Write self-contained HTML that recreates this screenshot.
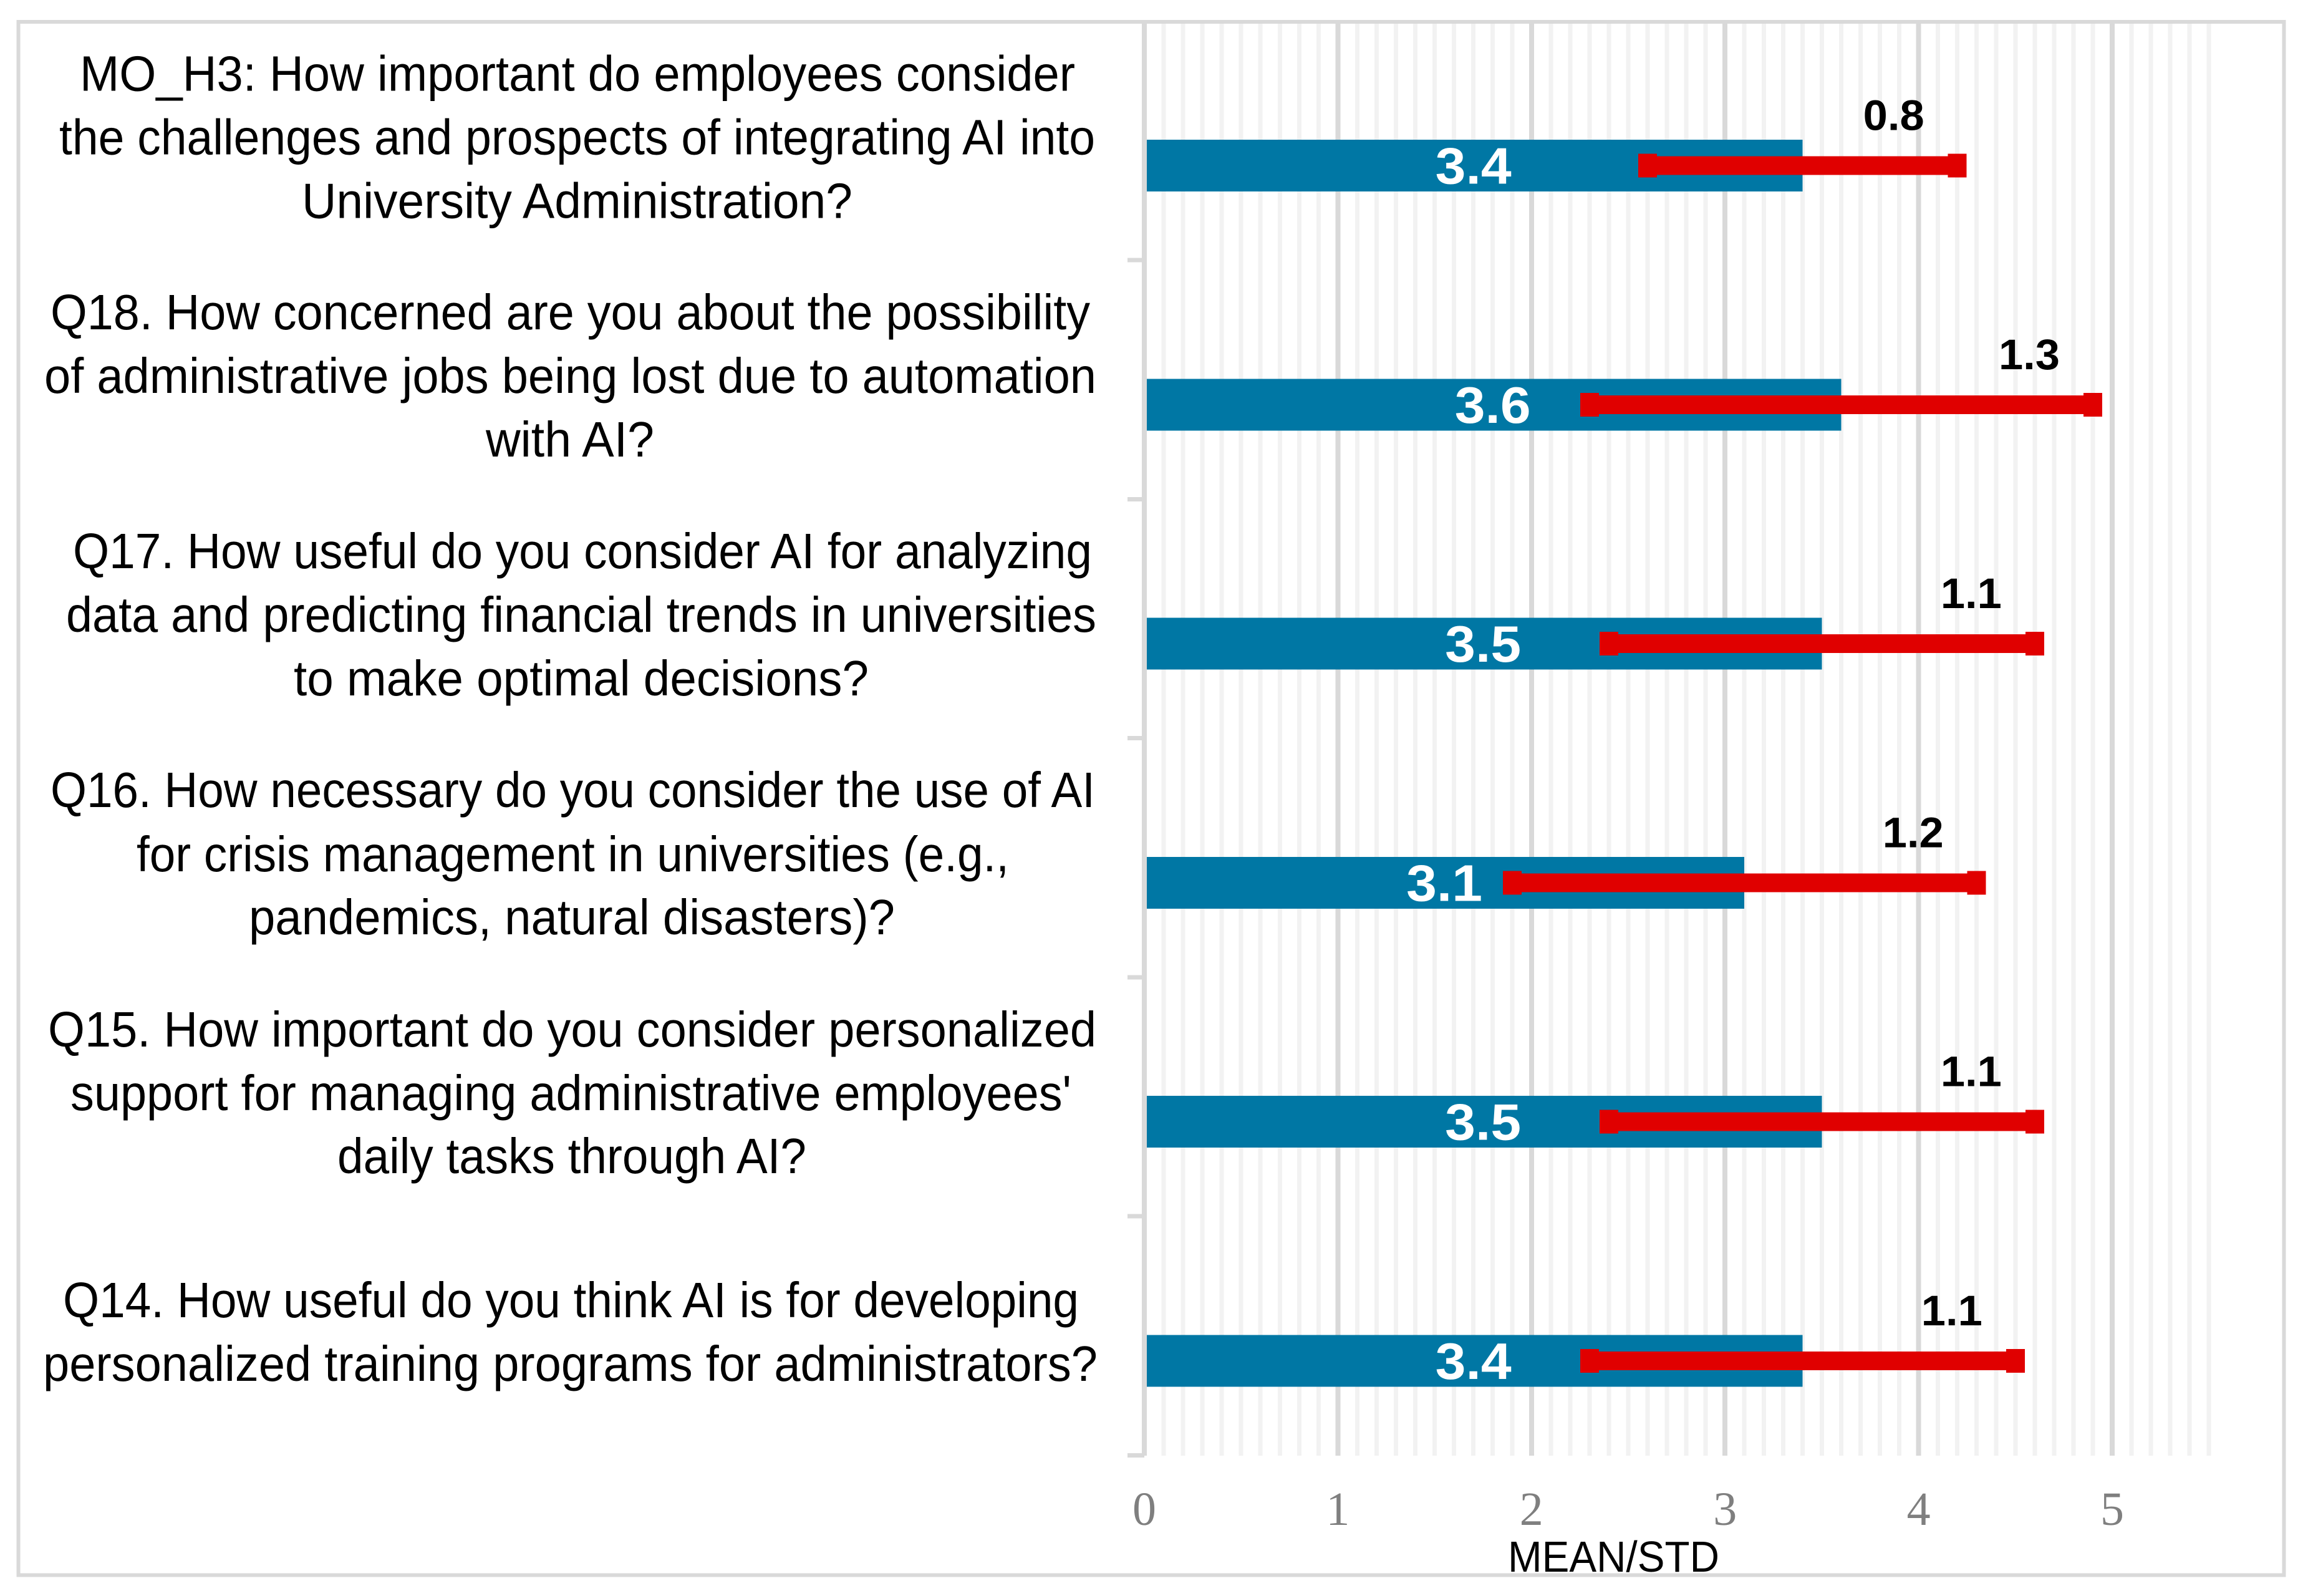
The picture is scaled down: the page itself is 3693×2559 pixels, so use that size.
<!DOCTYPE html>
<html lang="en">
<head>
<meta charset="utf-8">
<title>Mean and standard deviation chart</title>
<style>
  html, body { margin: 0; padding: 0; background: #ffffff; }
  svg { display: block; }
  .q { font-family: "Liberation Sans", Arial, sans-serif; font-size: 80px; fill: #000000; }
  .tick { font-family: "Liberation Serif", "Times New Roman", serif; font-size: 76px; fill: #7f7f7f; text-anchor: middle; }
  .val { font-family: "Liberation Sans", Arial, sans-serif; font-size: 83px; font-weight: bold; fill: #ffffff; text-anchor: middle; }
  .std { font-family: "Liberation Sans", Arial, sans-serif; font-size: 69px; font-weight: bold; fill: #000000; text-anchor: middle; }
  .title { font-family: "Liberation Sans", Arial, sans-serif; font-size: 70px; fill: #000000; }
</style>
</head>
<body>
<svg id="chart" xmlns="http://www.w3.org/2000/svg" width="3693" height="2559" viewBox="0 0 3693 2559">
  <rect x="0" y="0" width="3693" height="2559" fill="#ffffff"/>
  <g id="grid" shape-rendering="crispEdges"></g>
  <g id="yticks" shape-rendering="crispEdges"></g>
  <g id="bars" shape-rendering="crispEdges"></g>
  <g id="errors" shape-rendering="crispEdges"></g>
  <g id="valueLabels"></g>
  <g id="stdLabels"></g>
  <g id="xlabels"></g>

  <rect x="29.5" y="35" width="3633" height="2490.5" fill="none" stroke="#d9d9d9" stroke-width="6" shape-rendering="crispEdges"/>

  <g>
    <text class="q" x="128" y="145.5" textLength="1596" lengthAdjust="spacingAndGlyphs">MO_H3: How important do employees consider</text>
    <text class="q" x="95" y="247.5" textLength="1661" lengthAdjust="spacingAndGlyphs">the challenges and prospects of integrating AI into</text>
    <text class="q" x="484" y="349.5" textLength="883" lengthAdjust="spacingAndGlyphs">University Administration?</text>
  </g>
  <g>
    <text class="q" x="81" y="528" textLength="1667" lengthAdjust="spacingAndGlyphs">Q18. How concerned are you about the possibility</text>
    <text class="q" x="71" y="630" textLength="1687" lengthAdjust="spacingAndGlyphs">of administrative jobs being lost due to automation</text>
    <text class="q" x="779" y="732" textLength="270" lengthAdjust="spacingAndGlyphs">with AI?</text>
  </g>
  <g>
    <text class="q" x="117" y="911" textLength="1634" lengthAdjust="spacingAndGlyphs">Q17. How useful do you consider AI for analyzing</text>
    <text class="q" x="106" y="1013" textLength="1652" lengthAdjust="spacingAndGlyphs">data and predicting financial trends in universities</text>
    <text class="q" x="471" y="1115" textLength="922" lengthAdjust="spacingAndGlyphs">to make optimal decisions?</text>
  </g>
  <g>
    <text class="q" x="81" y="1294" textLength="1675" lengthAdjust="spacingAndGlyphs">Q16. How necessary do you consider the use of AI</text>
    <text class="q" x="219" y="1397" textLength="1399" lengthAdjust="spacingAndGlyphs">for crisis management in universities (e.g.,</text>
    <text class="q" x="399" y="1498" textLength="1036" lengthAdjust="spacingAndGlyphs">pandemics, natural disasters)?</text>
  </g>
  <g>
    <text class="q" x="77" y="1678" textLength="1681" lengthAdjust="spacingAndGlyphs">Q15. How important do you consider personalized</text>
    <text class="q" x="113" y="1780" textLength="1605" lengthAdjust="spacingAndGlyphs">support for managing administrative employees'</text>
    <text class="q" x="541" y="1881" textLength="752" lengthAdjust="spacingAndGlyphs">daily tasks through AI?</text>
  </g>
  <g>
    <text class="q" x="101" y="2112" textLength="1629" lengthAdjust="spacingAndGlyphs">Q14. How useful do you think AI is for developing</text>
    <text class="q" x="69" y="2214" textLength="1691" lengthAdjust="spacingAndGlyphs">personalized training programs for administrators?</text>
  </g>

  <text class="title" x="2418" y="2520" textLength="339" lengthAdjust="spacingAndGlyphs">MEAN/STD</text>
</svg>

<script>
const categories = ['MO_H3', 'Q18', 'Q17', 'Q16', 'Q15', 'Q14'];
const meanValues = [3.4, 3.6, 3.5, 3.1, 3.5, 3.4];
const stdValues = [0.8, 1.3, 1.1, 1.2, 1.1, 1.1];
const xTickLabels = ['0', '1', '2', '3', '4', '5'];
const xTickValues = [0, 1, 2, 3, 4, 5];
const xGridMax = 5.5;
const xMinorStep = 0.1;

const NS = 'http://www.w3.org/2000/svg';
const plotTop = 37;
const plotBottom = 2334;
const bandTop = 33.7;
const bandHeight = 383.3;

function xScale(v) { return 1835 + v * 310.4; }
function barCenter(i) { return bandTop + bandHeight * (i + 0.5) + 40.15; }

function make(tag, attrs, parent, text) {
  const el = document.createElementNS(NS, tag);
  for (const k in attrs) el.setAttribute(k, attrs[k]);
  if (text !== undefined) el.textContent = text;
  parent.appendChild(el);
  return el;
}

const gridG = document.getElementById('grid');
const ticksG = document.getElementById('yticks');
const barsG = document.getElementById('bars');
const errorsG = document.getElementById('errors');
const valueG = document.getElementById('valueLabels');
const stdG = document.getElementById('stdLabels');
const xLabelG = document.getElementById('xlabels');

const minorCount = Math.round(xGridMax / xMinorStep);
for (let k = 1; k <= minorCount; k++) {
  if (k % 10 === 0) continue;
  const cx = xScale(k * xMinorStep);
  const minor = make('rect', { x: cx - 3.5, y: plotTop, width: 7, height: plotBottom - plotTop, fill: '#f2f2f2' }, gridG);
  
  
}

xTickValues.forEach(function (v, i) {
  const cx = xScale(v);
  const major = make('rect', { x: cx - 4, y: plotTop, width: 8, height: plotBottom - plotTop, fill: '#d9d9d9' }, gridG);
  
  
  const label = make('text', { class: 'tick', x: cx, y: 2445 }, xLabelG, xTickLabels[i]);
  
  
});

for (let i = 1; i <= categories.length; i++) {
  const ty = bandTop + bandHeight * i;
  const tick = make('rect', { x: 1808, y: ty - 3.5, width: 27, height: 7, fill: '#d9d9d9' }, ticksG);
  
  
}

categories.forEach(function (cat, i) {
  const mean = meanValues[i];
  const std = stdValues[i];
  const cy = barCenter(i);
  const x0 = xScale(0);
  const xm = xScale(mean);
  const xl = xScale(mean - std);
  const xh = xScale(mean + std);

  const bar = make('rect', { x: x0 + 4, y: cy - 41.5, width: xm - x0 - 4, height: 83, fill: '#0077a4' }, barsG);
  
  

  const whisker = make('rect', { x: xl, y: cy - 15, width: xh - xl, height: 30, fill: '#e00000' }, errorsG);
  
  

  const capLow = make('rect', { x: xl - 15, y: cy - 19, width: 30, height: 38, fill: '#e00000' }, errorsG);
  
  

  const capHigh = make('rect', { x: xh - 15, y: cy - 19, width: 30, height: 38, fill: '#e00000' }, errorsG);
  
  

  const meanLabel = make('text', { class: 'val', x: (x0 + xm) / 2, y: cy + 29, textLength: 122, lengthAdjust: 'spacingAndGlyphs' }, valueG, mean.toFixed(1));
  
  

  const stdLabel = make('text', { class: 'std', x: xh - 102, y: cy - 57, textLength: 98, lengthAdjust: 'spacingAndGlyphs' }, stdG, std.toFixed(1));
  
  
});
</script>
</body>
</html>
